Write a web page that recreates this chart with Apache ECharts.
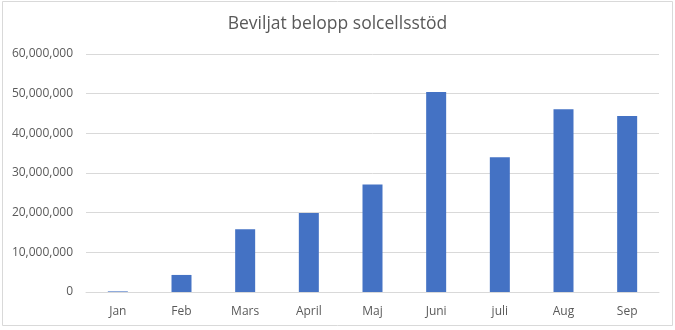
<!DOCTYPE html>
<html>
<head>
<meta charset="utf-8">
<script src="https://cdn.jsdelivr.net/npm/echarts@6/dist/echarts.min.js"></script>
<style>
  html, body { margin: 0; padding: 0; background: #ffffff; }
  #chart { width: 675px; height: 330px; }
</style>
</head>
<body>
<div id="chart"></div>
<script>
// Monthly granted amounts (SEK) for solar cell subsidy
const months = ['Jan', 'Feb', 'Mars', 'April', 'Maj', 'Juni', 'juli', 'Aug', 'Sep'];
const amounts = [150000, 4300000, 15800000, 19900000, 27100000, 50400000, 34000000, 46100000, 44400000];
const yMin = 0;
const yMax = 60000000;
const yStep = 10000000;

const textColor = '#595959';
const fontFamily = '"Open Sans", "Liberation Sans", sans-serif';

const chart = echarts.init(document.getElementById('chart'), null, { renderer: 'canvas' });

chart.setOption({
  animation: false,
  backgroundColor: '#ffffff',
  title: {
    text: 'Beviljat belopp solcellsstöd',
    left: 'center',
    top: 10,
    textStyle: { color: textColor, fontFamily: fontFamily, fontSize: 17.5, fontWeight: 'normal' }
  },
  graphic: [{
    type: 'rect',
    shape: { x: 2.5, y: 1.5, width: 670, height: 324 },
    style: { fill: 'none', stroke: '#d9d9d9', lineWidth: 1 },
    silent: true,
    z: -1
  }],
  grid: { left: 86, right: 16, top: 54, bottom: 38, containLabel: false },
  xAxis: {
    type: 'category',
    data: months,
    axisLine: { show: true, lineStyle: { color: '#d9d9d9', width: 1 } },
    axisTick: { show: false },
    axisLabel: { color: textColor, fontFamily: fontFamily, fontSize: 12, margin: 14 }
  },
  yAxis: {
    type: 'value',
    min: yMin,
    max: yMax,
    interval: yStep,
    axisLine: { show: false },
    axisTick: { show: false },
    splitLine: { lineStyle: { color: '#d9d9d9', width: 1 } },
    axisLabel: {
      color: textColor,
      fontFamily: fontFamily,
      fontSize: 12,
      margin: 13,
      formatter: v => v.toLocaleString('en-US')
    }
  },
  series: [{
    type: 'bar',
    data: amounts,
    barWidth: 20,
    itemStyle: { color: '#4472c4' }
  }]
});
</script>
</body>
</html>
